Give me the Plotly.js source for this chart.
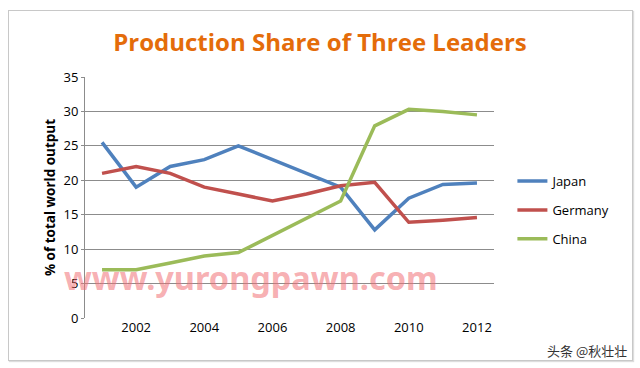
<!DOCTYPE html>
<html>
<head>
<meta charset="utf-8">
<script src="https://cdn.plot.ly/plotly-3.0.1.min.js"></script>
<style>
  html, body { margin: 0; padding: 0; background: #fff; }
  #wrap { position: relative; width: 640px; height: 368px; }
  #chart { width: 640px; height: 368px; }
  #frame { position: absolute; left: 8px; top: 10px; width: 623px; height: 349px; border: 1px solid #c8c8c8; pointer-events: none; box-shadow: 1px 1px 1px #ddd; }
</style>
</head>
<body>
<div id="wrap">
  <div id="chart"></div>
  <div id="frame"></div>
</div>
<script>
const years = [2001, 2002, 2003, 2004, 2005, 2006, 2007, 2008, 2009, 2010, 2011, 2012];
const japan = [25.5, 19, 22, 23, 25, 23, 21, 19, 12.8, 17.4, 19.4, 19.6];
const germany = [21, 22, 21, 19, 18, 17, 18, 19.2, 19.7, 13.9, 14.2, 14.6];
const china = [7, 7, 8, 9, 9.5, 12, 14.5, 17, 27.9, 30.3, 30, 29.5];
const xTicks = [2002, 2004, 2006, 2008, 2010, 2012];
const yTicks = [0, 5, 10, 15, 20, 25, 30, 35];

const FONT = "Open Sans, Liberation Sans, sans-serif";
function series(name, y, color) {
  return { x: years, y: y, name: name, legendgroup: name, type: 'scatter', mode: 'lines',
           line: { color: color, width: 3.5 } };
}
const data = [
  series('Japan', japan, '#4F81BD'),
  series('Germany', germany, '#C0504D'),
  series('China', china, '#9BBB59')
];
const layout = {
  width: 640, height: 368,
  margin: { l: 85, r: 146, t: 77, b: 50 },
  paper_bgcolor: '#fff', plot_bgcolor: '#fff',
  font: { family: FONT, size: 13, color: '#000' },
  title: { text: 'Production Share of Three Leaders', x: 0.5, xanchor: 'center', y: 0.885, yanchor: 'middle',
           font: { family: FONT, size: 24, color: '#E46C0A', weight: 'bold' } },
  xaxis: { range: [2000.5, 2012.5], tickvals: xTicks, ticktext: xTicks.map(String),
           showgrid: false, zeroline: false, showline: false, ticks: '',
           tickfont: { size: 13 } },
  yaxis: { range: [0, 35], tickvals: yTicks, showgrid: true, gridcolor: '#8c8c8c', gridwidth: 1,
           zeroline: false, showline: true, linecolor: '#8c8c8c', linewidth: 1,
           ticks: 'outside', ticklen: 3, tickcolor: '#8c8c8c', tickfont: { size: 13 },
           title: { text: '% of total world output', standoff: 4,
                    font: { family: FONT, size: 13.5, weight: 'bold' } } },
  showlegend: true,
  legend: { x: 1.045, xanchor: 'left', y: 0.448, yanchor: 'middle', font: { size: 13 },
            tracegroupgap: 9, itemwidth: 30, bgcolor: 'rgba(0,0,0,0)' },
  annotations: [
    { text: 'www.yurongpawn.com', xref: 'paper', yref: 'paper', x: 0.406, y: 0.17,
      xanchor: 'center', yanchor: 'middle', showarrow: false,
      font: { family: 'Noto Sans, sans-serif', size: 32.5, color: 'rgba(240,110,115,0.55)', weight: 'bold' } },
    { text: '头条 @秋壮壮', xref: 'paper', yref: 'paper', x: 1.33, y: -0.135,
      xanchor: 'right', yanchor: 'middle', showarrow: false,
      font: { family: 'Noto Sans CJK SC, sans-serif', size: 13, color: '#333' } }
  ]
};
Plotly.newPlot('chart', data, layout, { displayModeBar: false, staticPlot: true });
</script>
</body>
</html>
